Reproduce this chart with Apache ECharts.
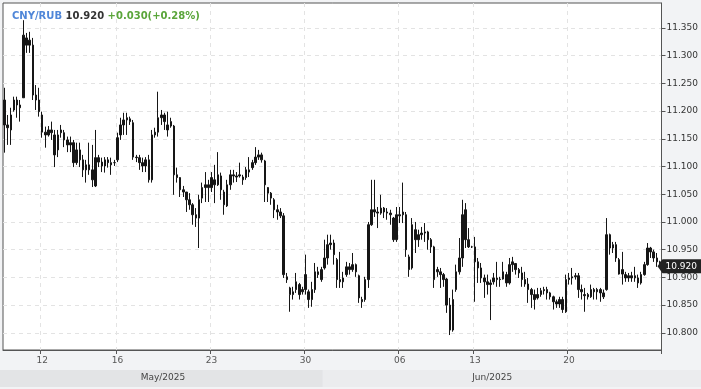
<!DOCTYPE html>
<html><head><meta charset="utf-8">
<script src="https://cdn.jsdelivr.net/npm/echarts@6/dist/echarts.min.js"></script>
<style>html,body{margin:0;padding:0;background:#f2f3f5;}#c{width:701px;height:389px;}</style>
</head><body><div id="c"></div>
<script>
const pairName = 'CNY/RUB';
const lastPriceText = '10.920';
const changeText = '+0.030(+0.28%)';
const days = ['2025-05-07','2025-05-08','2025-05-12','2025-05-13','2025-05-14','2025-05-15','2025-05-16',
  '2025-05-19','2025-05-20','2025-05-21','2025-05-22','2025-05-23','2025-05-26','2025-05-27','2025-05-28',
  '2025-05-29','2025-05-30','2025-06-02','2025-06-03','2025-06-04','2025-06-05','2025-06-06','2025-06-09',
  '2025-06-10','2025-06-11','2025-06-13','2025-06-16','2025-06-17','2025-06-18','2025-06-19','2025-06-20',
  '2025-06-23','2025-06-24','2025-06-25','2025-06-26'];
const sessions = ['07:00','10:00','13:00','16:00','19:00','22:00'];
const tickDays = ['2025-05-12','2025-05-16','2025-05-23','2025-05-30','2025-06-06','2025-06-13','2025-06-20'];
const tickLabels = ['12','16','23','30','06','13','20'];
const monthKeys = ['2025-05','2025-06'];
const monthLabels = ['May/2025','Jun/2025'];
const yTicks = [10.80,10.85,10.90,10.95,11.00,11.05,11.10,11.15,11.20,11.25,11.30,11.35];

const openP = [
11.220,11.175,11.166,11.202,11.220,11.211,
11.224,11.332,11.319,11.319,11.229,11.220,
11.193,11.162,11.157,11.166,11.157,11.130,
11.161,11.161,11.148,11.139,11.143,11.107,
11.130,11.112,11.094,11.103,11.094,11.065,
11.116,11.108,11.101,11.112,11.107,11.107,
11.112,11.157,11.175,11.184,11.186,11.179,
11.117,11.116,11.107,11.101,11.112,11.076,
11.157,11.162,11.188,11.193,11.175,11.181,
11.173,11.085,11.080,11.058,11.054,11.040,
11.031,11.013,11.007,11.043,11.062,11.067,
11.062,11.076,11.067,11.083,11.054,11.029,
11.067,11.085,11.083,11.083,11.081,11.080,
11.094,11.098,11.107,11.117,11.121,11.110,
11.062,11.052,11.040,11.022,11.018,11.011,
10.901,10.881,10.869,10.878,10.887,10.874,
10.878,10.874,10.860,10.878,10.910,10.896,
10.917,10.935,10.959,10.962,10.932,10.896,
10.892,10.905,10.919,10.914,10.923,10.903,
10.860,10.860,10.896,10.995,11.022,11.018,
11.016,11.025,11.018,11.016,11.007,10.968,
11.013,11.013,11.013,10.937,10.917,10.986,
10.968,10.977,10.980,10.982,10.968,10.955,
10.914,10.910,10.905,10.897,10.850,10.805,
10.878,10.910,10.935,11.022,10.968,10.955,
10.955,10.928,10.917,10.899,10.892,10.887,
10.892,10.899,10.896,10.897,10.905,10.890,
10.923,10.925,10.914,10.908,10.896,10.888,
10.878,10.869,10.863,10.869,10.876,10.878,
10.872,10.865,10.856,10.852,10.860,10.838,
10.896,10.899,10.901,10.903,10.878,10.867,
10.869,10.865,10.878,10.874,10.878,10.872,
10.878,10.977,10.953,10.959,10.932,10.906,
10.899,10.903,10.899,10.903,10.899,10.890,
10.905,10.923,10.953,10.946,10.935,10.928];

const closeP = [
11.175,11.170,11.193,11.220,11.211,11.206,
11.337,11.319,11.328,11.229,11.220,11.199,
11.162,11.157,11.166,11.161,11.121,11.157,
11.166,11.148,11.139,11.143,11.107,11.130,
11.112,11.094,11.103,11.094,11.076,11.116,
11.108,11.101,11.112,11.107,11.103,11.107,
11.152,11.175,11.184,11.188,11.181,11.117,
11.116,11.107,11.101,11.112,11.076,11.157,
11.162,11.188,11.193,11.181,11.166,11.173,
11.085,11.080,11.058,11.054,11.040,11.031,
11.013,11.007,11.040,11.062,11.067,11.062,
11.080,11.067,11.085,11.058,11.031,11.067,
11.085,11.083,11.081,11.085,11.076,11.094,
11.090,11.107,11.117,11.121,11.112,11.067,
11.052,11.043,11.022,11.018,11.011,10.905,
10.896,10.869,10.874,10.892,10.869,10.878,
10.905,10.860,10.878,10.910,10.905,10.914,
10.935,10.959,10.962,10.941,10.896,10.892,
10.899,10.919,10.914,10.923,10.910,10.863,
10.856,10.896,10.995,11.022,11.018,11.016,
11.025,11.018,11.016,11.013,10.968,11.013,
11.011,11.018,10.950,10.914,10.995,10.968,
10.977,10.980,10.982,10.968,10.955,10.896,
10.910,10.905,10.896,10.850,10.805,10.860,
10.910,10.935,11.013,10.968,10.955,10.955,
10.928,10.917,10.899,10.892,10.887,10.890,
10.899,10.896,10.897,10.910,10.890,10.923,
10.928,10.914,10.908,10.896,10.888,10.878,
10.869,10.860,10.869,10.876,10.878,10.872,
10.865,10.856,10.852,10.860,10.842,10.896,
10.899,10.901,10.903,10.878,10.874,10.869,
10.865,10.878,10.874,10.878,10.872,10.865,
10.977,10.953,10.959,10.935,10.906,10.914,
10.905,10.899,10.903,10.899,10.890,10.905,
10.923,10.953,10.946,10.935,10.928,10.920];

const lowP = [
11.125,11.139,11.139,11.199,11.188,11.181,
11.224,11.305,11.305,11.220,11.202,11.190,
11.152,11.134,11.154,11.148,11.099,11.117,
11.152,11.135,11.126,11.126,11.099,11.103,
11.099,11.081,11.071,11.085,11.063,11.063,
11.099,11.090,11.089,11.098,11.085,11.101,
11.108,11.148,11.157,11.157,11.175,11.112,
11.108,11.094,11.090,11.090,11.071,11.071,
11.152,11.154,11.175,11.166,11.154,11.170,
11.049,11.071,11.045,11.045,11.018,11.022,
10.995,10.991,10.953,11.034,11.036,11.036,
11.054,11.034,11.065,11.040,11.013,11.027,
11.058,11.071,11.072,11.080,11.067,11.076,
11.081,11.094,11.103,11.112,11.107,11.036,
11.036,11.031,11.007,11.004,11.007,10.899,
10.890,10.838,10.860,10.872,10.860,10.869,
10.869,10.845,10.847,10.872,10.899,10.892,
10.914,10.923,10.950,10.923,10.881,10.881,
10.881,10.901,10.905,10.910,10.901,10.854,
10.845,10.856,10.881,10.993,11.009,10.989,
11.013,11.007,11.004,10.995,10.964,10.964,
10.998,10.998,10.937,10.901,10.914,10.944,
10.955,10.968,10.964,10.950,10.944,10.881,
10.901,10.881,10.883,10.836,10.796,10.802,
10.874,10.905,10.919,10.953,10.953,10.953,
10.856,10.890,10.890,10.863,10.869,10.823,
10.887,10.883,10.883,10.896,10.883,10.887,
10.910,10.905,10.899,10.883,10.883,10.854,
10.845,10.842,10.860,10.865,10.869,10.860,
10.860,10.842,10.845,10.845,10.836,10.836,
10.887,10.887,10.896,10.863,10.860,10.838,
10.860,10.863,10.860,10.860,10.856,10.861,
10.876,10.941,10.944,10.928,10.905,10.887,
10.892,10.892,10.892,10.892,10.881,10.887,
10.903,10.921,10.935,10.928,10.919,10.917];

const highP = [
11.242,11.193,11.206,11.226,11.226,11.220,
11.364,11.341,11.343,11.332,11.247,11.242,
11.199,11.172,11.173,11.181,11.166,11.166,
11.175,11.166,11.154,11.154,11.148,11.143,
11.143,11.121,11.112,11.143,11.139,11.166,
11.121,11.116,11.117,11.117,11.116,11.112,
11.161,11.188,11.197,11.197,11.190,11.184,
11.121,11.121,11.116,11.117,11.121,11.166,
11.170,11.235,11.202,11.197,11.199,11.188,
11.175,11.098,11.081,11.065,11.054,11.052,
11.034,11.025,11.049,11.071,11.090,11.076,
11.090,11.103,11.126,11.089,11.058,11.076,
11.094,11.094,11.090,11.107,11.085,11.099,
11.117,11.112,11.135,11.130,11.125,11.112,
11.063,11.054,11.043,11.031,11.025,11.016,
10.908,10.883,10.883,10.908,10.890,10.883,
10.941,10.878,10.892,10.926,10.919,10.919,
10.968,10.977,10.977,10.968,10.935,10.946,
10.910,10.928,10.926,10.944,10.925,10.905,
10.865,10.901,11.000,11.076,11.076,11.027,
11.049,11.027,11.025,11.022,11.009,11.027,
11.027,11.071,11.018,10.941,11.007,11.000,
10.986,10.991,10.998,10.984,10.971,10.957,
10.919,10.917,10.908,10.899,10.863,10.878,
10.923,10.971,11.040,11.034,10.989,10.957,
10.973,10.935,10.926,10.905,10.905,10.896,
10.908,10.928,10.901,10.928,10.910,10.935,
10.937,10.926,10.917,10.919,10.910,10.899,
10.881,10.878,10.881,10.881,10.883,10.883,
10.874,10.867,10.860,10.865,10.865,10.905,
10.908,10.917,10.908,10.908,10.887,10.881,
10.872,10.887,10.881,10.881,10.881,10.878,
11.007,10.979,10.964,10.964,10.935,10.946,
10.910,10.908,10.910,10.919,10.905,10.910,
10.928,10.962,10.955,10.950,10.944,10.930];

const FONT = 'DejaVu Sans';
const categories = [];
days.forEach(d => sessions.forEach(s => categories.push(d + ' ' + s)));
const ohlc = openP.map((o, i) => [o, closeP[i], lowP[i], highP[i]]);
const isTickIdx = (i) => {
  const c = categories[i];
  return !!c && c.slice(11) === sessions[0] && tickDays.indexOf(c.slice(0, 10)) >= 0;
};

const chart = echarts.init(document.getElementById('c'), null, {renderer: 'canvas'});
chart.setOption({
  animation: false,
  backgroundColor: '#f2f3f5',
  title: {
    text: '{a|' + pairName + '} {b|' + lastPriceText + '} {c|' + changeText + '}',
    left: 7, top: 6,
    textStyle: {
      fontFamily: FONT, fontSize: 10, fontWeight: 'bold',
      rich: {
        a: {color: '#4f86d8', fontFamily: FONT, fontSize: 10, fontWeight: 'bold'},
        b: {color: '#333333', fontFamily: FONT, fontSize: 10, fontWeight: 'bold'},
        c: {color: '#5aa53a', fontFamily: FONT, fontSize: 10, fontWeight: 'bold'}
      }
    }
  },
  grid: {left: 3, right: 38, top: 3, bottom: 39, show: true, backgroundColor: '#ffffff', borderColor: '#555555', borderWidth: 1},
  xAxis: {
    type: 'category', data: categories, boundaryGap: true,
    axisLine: {show: true, lineStyle: {color: '#555555'}},
    axisTick: {show: true, length: 4, interval: (i) => isTickIdx(i), lineStyle: {color: '#555555'}},
    axisLabel: {
      interval: (i) => isTickIdx(i), margin: 6, color: '#555555', fontFamily: FONT, fontSize: 9,
      formatter: (v) => tickLabels[tickDays.indexOf(v.slice(0, 10))]
    },
    splitLine: {show: true, interval: (i) => isTickIdx(i), lineStyle: {color: '#e3e3e3', type: [4, 4]}}
  },
  yAxis: {
    type: 'value', position: 'right', min: 10.769, max: 11.395,
    axisLine: {show: true, lineStyle: {color: '#555555'}},
    axisTick: {show: true, length: 4, customValues: yTicks, lineStyle: {color: '#555555'}},
    axisLabel: {customValues: yTicks, margin: 5, color: '#333333', fontFamily: FONT, fontSize: 9,
      formatter: (v) => v.toFixed(3)},
    splitLine: {show: true, lineStyle: {color: '#e3e3e3', type: [4, 4]}}
  },
  series: [{
    type: 'candlestick', data: ohlc, barWidth: 2,
    itemStyle: {color: '#161616', color0: '#161616', borderColor: '#161616', borderColor0: '#161616', borderWidth: 1}
  }]
});

// decorations placed through the axes' own scales
const px = (c) => chart.convertToPixel({xAxisIndex: 0}, c);
const band = px(categories[1]) - px(categories[0]);
const leftX = px(categories[0]) - band / 2;
const rightX = px(categories[categories.length - 1]) + band / 2;
let lastMayIdx = -1;
categories.forEach((c, i) => { if (c.slice(0, 7) === monthKeys[0]) lastMayIdx = i; });
const xb = (px(categories[lastMayIdx]) + px(categories[lastMayIdx + 1])) / 2;
const yp = chart.convertToPixel({yAxisIndex: 0}, closeP[closeP.length - 1]);
const W = chart.getWidth();
chart.setOption({
  graphic: [
    {type: 'rect', shape: {x: 0, y: 370, width: xb, height: 17}, style: {fill: '#e3e4e6'}, silent: true},
    {type: 'rect', shape: {x: xb, y: 370, width: W - xb, height: 17}, style: {fill: '#ebecee'}, silent: true},
    {type: 'text', x: (leftX + xb) / 2, y: 378, style: {text: monthLabels[0], fill: '#444', font: '9px "DejaVu Sans"', align: 'center', verticalAlign: 'middle'}, silent: true},
    {type: 'text', x: (xb + rightX) / 2, y: 378, style: {text: monthLabels[1], fill: '#444', font: '9px "DejaVu Sans"', align: 'center', verticalAlign: 'middle'}, silent: true},
    {type: 'polygon', shape: {points: [[rightX - 4, yp], [rightX + 1, yp - 7], [W, yp - 7], [W, yp + 7], [rightX + 1, yp + 7]]}, style: {fill: '#222222'}, silent: true, z: 100},
    {type: 'text', x: rightX + 4, y: yp, style: {text: closeP[closeP.length - 1].toFixed(3), fill: '#ffffff', font: '9px "DejaVu Sans"', verticalAlign: 'middle'}, silent: true, z: 101}
  ]
});
</script></body></html>
